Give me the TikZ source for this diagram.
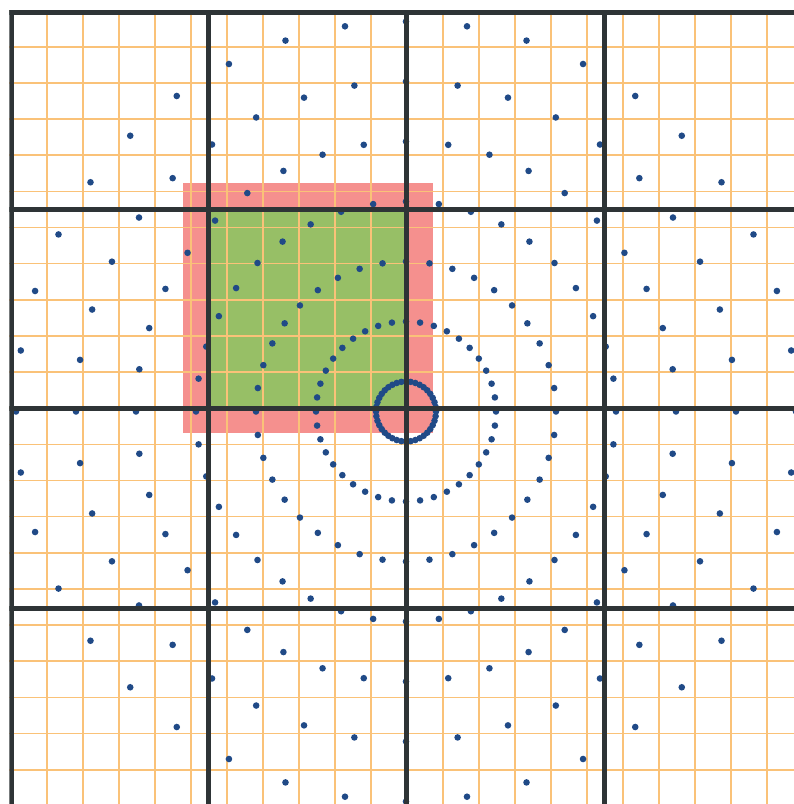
\documentclass[tikz,border=0pt]{standalone}
\definecolor{gridthick}{HTML}{2E3436}
\definecolor{gridorange}{HTML}{FAC278}
\definecolor{dotblue}{HTML}{204A87}
\definecolor{halored}{HTML}{F5908E}
\definecolor{cellgreen}{HTML}{97BF66}
\tikzset{
  fineline/.style={draw=gridorange, line width=1.6pt},
  cellline/.style={draw=gridthick, line width=5.3pt},
  particle/.style={fill=dotblue},
}
\begin{document}
\begin{tikzpicture}[x=1pt,y=-1pt]
\useasboundingbox (0,0) rectangle (794,804);
\begin{scope}
  \clip (9.3,10) rectangle (794,804);
  % halo and cell
  \fill[halored] (182.7,183.3) rectangle (432.7,433.3);
  \fill[cellgreen] (208.7,209.6) rectangle (406.8,408.2);
  % fine mesh
  \foreach \i in {0,...,22} {
    \draw[fineline] ({10.7+36*\i},0) -- ({10.7+36*\i},804);
    \draw[fineline] (0,{10.55+36.15*\i}) -- (794,{10.55+36.15*\i});
  }
  % particles on rings
  \foreach \r in {30,90,150,210,270,330,390} {
    \foreach \a in {0,9,...,351} {
      \fill[particle] ({406+\r*cos(\a)},{411.5-\r*sin(\a)}) circle[radius=3.3pt];
    }
  }
  % cell boundaries
  \foreach \x in {11.7,208.7,406.8,604.7} \draw[cellline] (\x,9) -- (\x,804);
  \foreach \y in {12.5,209.6,408.2,608.8} \draw[cellline] (9,\y) -- (794,\y);
\end{scope}
\end{tikzpicture}
\end{document}
